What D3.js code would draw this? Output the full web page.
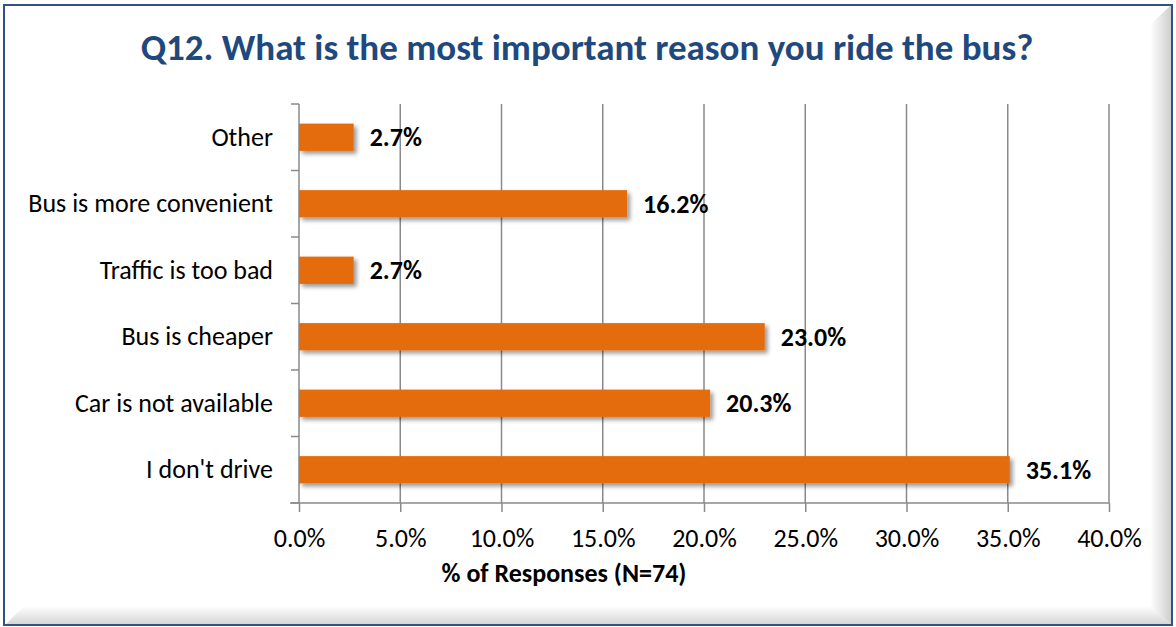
<!DOCTYPE html>
<html>
<head>
<meta charset="utf-8">
<script src="https://cdn.jsdelivr.net/npm/d3@7"></script>
<style>
  html, body { margin: 0; padding: 0; background: #ffffff; }
  svg { display: block; }
  text { font-family: Carlito, Lato, "Open Sans", sans-serif; }
</style>
</head>
<body>
<svg id="chart" width="1176" height="627"></svg>
<script>
// Survey responses, Q12
const categories = [
  "Other",
  "Bus is more convenient",
  "Traffic is too bad",
  "Bus is cheaper",
  "Car is not available",
  "I don't drive"
];
const shares = [2.7, 16.2, 2.7, 23.0, 20.3, 35.1];
const tickValues = [0, 5, 10, 15, 20, 25, 30, 35, 40];
const titleText = "Q12. What is the most important reason you ride the bus?";
const axisTitle = "% of Responses (N=74)";

const rows = categories.map((c, i) => ({ category: c, value: shares[i] }));

const plot = { left: 299, right: 1109, top: 104, bottom: 503 };

const svg = d3.select("#chart");
const defs = svg.append("defs");

// soft drop shadow under the bars
const shadow = defs.append("filter").attr("id", "barShadow")
  .attr("x", "-10%").attr("y", "-40%").attr("width", "130%").attr("height", "190%");
shadow.append("feDropShadow")
  .attr("dx", 3).attr("dy", 3).attr("stdDeviation", 2.2)
  .attr("flood-color", "#000").attr("flood-opacity", 0.4);

// bevel gradients along the right and bottom edges of the frame
const gR = defs.append("linearGradient").attr("id", "bevelR").attr("x1", 0).attr("x2", 1).attr("y1", 0).attr("y2", 0);
gR.append("stop").attr("offset", 0).attr("stop-color", "#ffffff");
gR.append("stop").attr("offset", 1).attr("stop-color", "#cfcfcf");
const gB = defs.append("linearGradient").attr("id", "bevelB").attr("x1", 0).attr("x2", 0).attr("y1", 0).attr("y2", 1);
gB.append("stop").attr("offset", 0).attr("stop-color", "#ffffff");
gB.append("stop").attr("offset", 1).attr("stop-color", "#d4d4d4");

// frame background
svg.append("rect").attr("x", 4).attr("y", 5).attr("width", 1168).attr("height", 620).attr("fill", "#ffffff");
svg.append("polygon")
  .attr("points", "1150,25 1171,5 1171,625 1150,606")
  .attr("fill", "url(#bevelR)");
svg.append("polygon")
  .attr("points", "5,625 24,606 1150,606 1171,625")
  .attr("fill", "url(#bevelB)");
svg.append("rect").attr("x", 4).attr("y", 5).attr("width", 1168).attr("height", 620)
  .attr("fill", "none").attr("stroke", "#2D5387").attr("stroke-width", 2);

// scales
const x = d3.scaleLinear().domain([0, 40]).range([plot.left, plot.right]);
const y = d3.scaleBand().domain(categories).range([plot.top, plot.bottom])
  .paddingInner(0.59).paddingOuter(0.295);

// vertical gridlines
svg.append("g").selectAll("line")
  .data(tickValues.slice(1))
  .join("line")
  .attr("x1", d => x(d)).attr("x2", d => x(d))
  .attr("y1", plot.top).attr("y2", plot.bottom)
  .attr("stroke", "#8a8a8a").attr("stroke-width", 1.5);

// bottom axis
const xAxis = d3.axisBottom(x).tickValues(tickValues).tickSize(9)
  .tickFormat(d => d3.format(".1f")(d) + "%");
const gx = svg.append("g").attr("transform", `translate(0,${plot.bottom})`).call(xAxis);
gx.select(".domain").remove();
gx.selectAll(".tick line").attr("stroke", "#8a8a8a").attr("stroke-width", 1.5);
gx.selectAll(".tick text")
  .attr("y", 44).attr("dy", 0)
  .attr("font-size", 26).attr("fill", "#000")
  .style("font-family", "Carlito, Lato, sans-serif");
svg.append("line")
  .attr("x1", plot.left - 9).attr("x2", plot.right)
  .attr("y1", plot.bottom).attr("y2", plot.bottom)
  .attr("stroke", "#8a8a8a").attr("stroke-width", 1.5);

// left axis: line plus ticks on category boundaries
svg.append("line")
  .attr("x1", plot.left).attr("x2", plot.left)
  .attr("y1", plot.top).attr("y2", plot.bottom)
  .attr("stroke", "#8a8a8a").attr("stroke-width", 1.5);
const boundaries = d3.range(categories.length + 1).map(i => plot.top + i * y.step());
svg.append("g").selectAll("line")
  .data(boundaries)
  .join("line")
  .attr("x1", plot.left - 8).attr("x2", plot.left)
  .attr("y1", d => d).attr("y2", d => d)
  .attr("stroke", "#8a8a8a").attr("stroke-width", 1.5);

// category labels
svg.append("g").selectAll("text")
  .data(rows)
  .join("text")
  .attr("x", 273)
  .attr("y", d => y(d.category) + y.bandwidth() / 2 + 8.5)
  .attr("text-anchor", "end")
  .attr("font-size", 26)
  .attr("fill", "#000")
  .text(d => d.category);

// bars
svg.append("g").selectAll("rect")
  .data(rows)
  .join("rect")
  .attr("x", x(0))
  .attr("y", d => y(d.category))
  .attr("width", d => x(d.value) - x(0))
  .attr("height", y.bandwidth())
  .attr("fill", "#E46C0A")
  .attr("filter", "url(#barShadow)");

// value labels
svg.append("g").selectAll("text")
  .data(rows)
  .join("text")
  .attr("x", d => x(d.value) + 16)
  .attr("y", d => y(d.category) + y.bandwidth() / 2 + 9)
  .attr("font-size", 26)
  .attr("font-weight", "bold")
  .attr("fill", "#000")
  .text(d => d.value.toFixed(1) + "%");

// title
svg.append("text")
  .attr("x", 587).attr("y", 60)
  .attr("text-anchor", "middle")
  .attr("font-size", 37)
  .attr("font-weight", "bold")
  .attr("fill", "#1F497D")
  .text(titleText);

// axis title
svg.append("text")
  .attr("x", 564).attr("y", 582)
  .attr("text-anchor", "middle")
  .attr("font-size", 26)
  .attr("font-weight", "bold")
  .attr("fill", "#000")
  .text(axisTitle);
</script>
</body>
</html>
